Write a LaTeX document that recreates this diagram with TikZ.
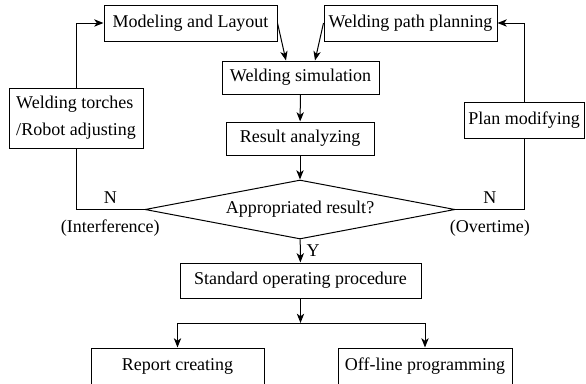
\documentclass[tikz,border=0pt]{standalone}
\usepackage{fontspec}
\setmainfont{Liberation Serif}
\usetikzlibrary{shapes.geometric,arrows.meta}
\begin{document}
\begin{tikzpicture}[x=0.75pt,y=-0.75pt,line width=0.75pt,
  font=\fontsize{13.5}{20}\selectfont,
  box/.style={draw,inner sep=0pt,align=center},
  flow/.style={-{Stealth[length=7pt,width=5.5pt,inset=2pt]}}]

\useasboundingbox (0,0) rectangle (586,383);

% === top row ===
\node[box,minimum width=129.75pt,minimum height=27pt] (model) at (190.5,23) {Modeling and Layout};
\node[box,minimum width=129.75pt,minimum height=27pt] (path) at (410.5,23) {Welding path planning};

% === middle column ===
\node[box,minimum width=117.75pt,minimum height=24.75pt] (sim) at (300.5,77.5) {Welding simulation};
\node[box,minimum width=111pt,minimum height=24.75pt] (result) at (300,138.5) {Result analyzing};
\node[draw,shape=diamond,aspect=5.25,inner sep=0pt,
  minimum width=232.5pt,minimum height=44.25pt] (check) at (300,209.5) {Appropriated result?};
\node[box,minimum width=180.75pt,minimum height=26.25pt] (std) at (300.5,280.5) {Standard operating procedure};

% === side boxes ===
\node[box,align=left,minimum width=100.5pt,minimum height=45pt] (torch) at (76,118) {Welding torches\\/Robot adjusting};
\node[box,minimum width=90pt,minimum height=27pt] (plan) at (524,120) {Plan modifying};

% === bottom row ===
\coordinate (split) at (300.5,323);
\node[box,minimum width=129.75pt,minimum height=27pt] (report) at (177.5,366) {Report creating};
\node[box,minimum width=130.5pt,minimum height=27pt] (offline) at (425,366) {Off-line programming};

% main flow
\draw[flow] (model.east) -- ([xshift=-10.9pt]sim.north);
\draw[flow] (path.west) -- ([xshift=10.9pt]sim.north);
\draw[flow] (sim) -- (result);
\draw[flow] (result) -- (check);
\draw[flow] (check) -- node[right=1pt] {Y} (std);
\draw[flow] (std) -- (split);
\draw[flow] (split) -| (report.north);
\draw[flow] (split) -| (offline.north);

% loops back
\draw (check.west) -| node[pos=0.25,above=1pt] {N} node[pos=0.25,below=4pt] {(Interference)} (torch.south);
\draw[flow] (torch.north) |- (model.west);
\draw (check.east) -| node[pos=0.25,above=1pt] {N} node[pos=0.25,below=4pt] {(Overtime)} (plan.south);
\draw[flow] (plan.north) |- (path.east);

\end{tikzpicture}
\end{document}
